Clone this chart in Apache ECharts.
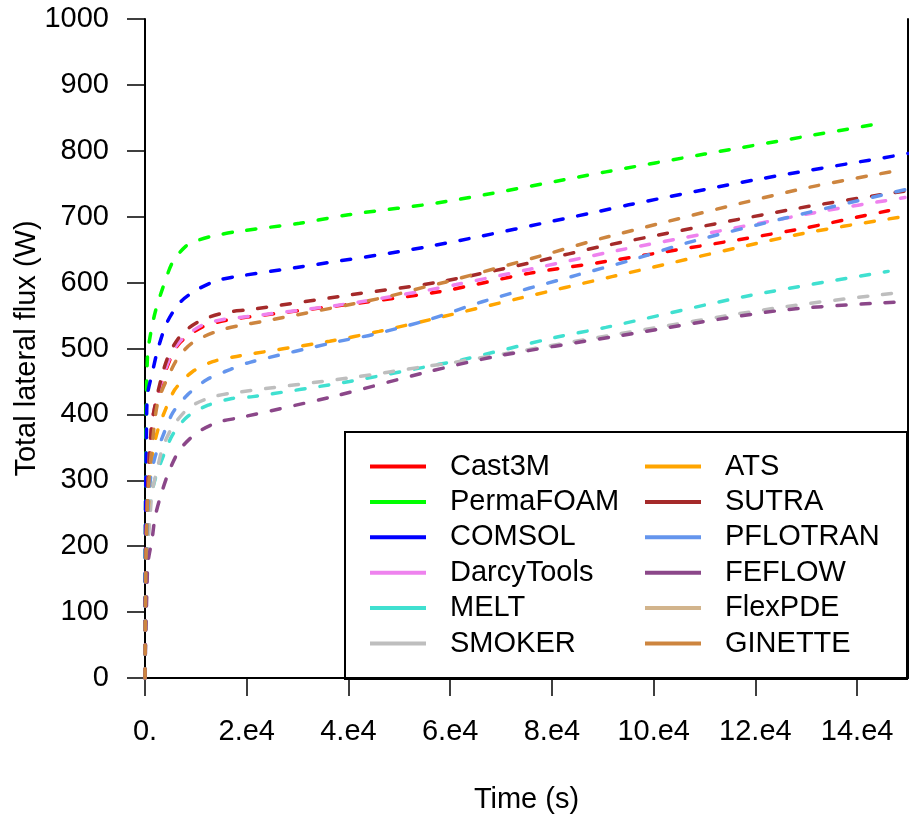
<!DOCTYPE html>
<html>
<head>
<meta charset="utf-8">
<script src="https://cdn.jsdelivr.net/npm/echarts@6/dist/echarts.min.js"></script>
<style>
  html, body { margin: 0; padding: 0; background: #fff; }
  #chart { width: 909px; height: 818px; }
</style>
</head>
<body>
<div id="chart"></div>
<script>
// ---- data (time in s, flux in W) ----
const xTickValues = [0, 20000, 40000, 60000, 80000, 100000, 120000, 140000];
const xTickLabels = ['0.', '2.e4', '4.e4', '6.e4', '8.e4', '10.e4', '12.e4', '14.e4'];

const cast3m = [[0,0],[200,200],[600,300],[1400,388],[2500,427],[4900,483],[6900,509],[11400,533],[16700,544],[20600,548],[40000,567],[57800,586],[75500,614],[90600,632],[127800,680],[146100,709],[149000,712]];
const permafoam = [[0,0],[200,380],[500,490],[1000,518],[2000,555],[3500,592],[5500,632],[8000,655],[10000,663],[13000,670],[18600,678],[30400,690],[40000,703],[59200,723],[90600,768],[110000,795],[130000,822],[143500,840]];
const comsol = [[0,0],[100,250],[300,380],[500,430],[1400,462],[2500,498],[4300,539],[6900,570],[10200,589],[14100,603],[18600,610],[29800,623],[55900,655],[89200,708],[95100,718],[120000,756],[149400,795],[150000,796]];
const darcytools = [[0,0],[200,200],[600,300],[1400,388],[2500,430],[4900,486],[6900,511],[11400,536],[16700,546],[18600,547],[40000,568],[55900,589],[61200,597],[75500,620],[93100,649],[111400,676],[133700,709],[149400,729]];
const melt = [[0,0],[200,120],[600,210],[1000,267],[2000,302],[3500,335],[5500,370],[8400,397],[12400,414],[17100,424],[21200,427],[40200,450],[57800,476],[62400,483],[80800,517],[90600,532],[118000,579],[146100,617]];
const smoker = [[0,0],[200,120],[600,200],[1000,245],[1400,282],[2400,317],[3500,350],[5500,382],[8800,411],[13100,426],[17600,433],[40800,456],[55300,473],[59200,477],[72900,495],[92200,521],[124500,562],[149400,586]];
const ats = [[0,0],[200,150],[600,250],[1400,336],[2400,373],[3900,405],[5900,438],[9200,464],[13300,480],[18000,488],[36300,511],[46000,526],[57800,547],[73500,576],[91800,609],[128400,673],[149000,700]];
const sutra = [[0,0],[200,200],[600,300],[1400,388],[3300,458],[4900,494],[7500,524],[11400,544],[16100,555],[20600,559],[40000,581],[57800,601],[76900,632],[89800,655],[127800,712],[149400,739]];
const pflotran = [[0,0],[200,150],[500,240],[1000,298],[2000,336],[3500,367],[5500,403],[8400,430],[12200,453],[16700,468],[20600,479],[38200,511],[44700,521],[55900,544],[66300,571],[84700,611],[95100,633],[106900,661],[125900,698],[149400,741]];
const feflow = [[0,0],[200,80],[400,140],[600,176],[1400,211],[2000,245],[3300,282],[4900,317],[6900,347],[10200,372],[14300,388],[18600,395],[36900,427],[55300,464],[69000,488],[92200,518],[125100,558],[149400,571]];
const flexpde = [];
const ginette = [[0,0],[200,180],[600,280],[1500,360],[2500,418],[4300,453],[6500,486],[9400,509],[14100,526],[18600,535],[23100,541],[46700,577],[55300,594],[59200,601],[78000,641],[91200,670],[128400,741],[148000,770]];

const seriesNames = ['Cast3M','PermaFOAM','COMSOL','DarcyTools','MELT','SMOKER','ATS','SUTRA','PFLOTRAN','FEFLOW','FlexPDE','GINETTE'];
const seriesData = [cast3m, permafoam, comsol, darcytools, melt, smoker, ats, sutra, pflotran, feflow, flexpde, ginette];
const seriesColors = ['#FF0000','#00FF00','#0000FF','#EE82EE','#40E0D0','#BEBEBE','#FFA500','#A52A2A','#6495ED','#8B4789','#D2B48C','#CD853F'];

const FONT = "'Liberation Sans', Arial, Helvetica, sans-serif";
const FS = 29;
const chart = echarts.init(document.getElementById('chart'), null, {renderer: 'canvas'});

const legendCommon = {
  orient: 'vertical',
  icon: 'rect',
  itemWidth: 56,
  itemHeight: 4,
  itemGap: 6.4,
  textStyle: {fontFamily: FONT, fontSize: FS, color: '#000', padding: [0, 0, 0, 19]},
  padding: 0,
  selectedMode: false
};

const option = {
  backgroundColor: '#fff',
  animation: false,
  textStyle: {fontFamily: FONT},
  grid: {left: 145, right: 1, top: 19, bottom: 140, containLabel: false, outerBoundsMode: 'none'},
  xAxis: {
    type: 'value', min: 0, max: 150000,
    name: 'Time (s)', nameLocation: 'middle', nameGap: 107, nameMoveOverlap: false,
    nameTextStyle: {fontFamily: FONT, fontSize: FS, color: '#000'},
    axisLine: {show: true, onZero: false, lineStyle: {color: '#000', width: 2}},
    axisTick: {show: true, inside: false, length: 18, lineStyle: {color: '#000', width: 1.5}, customValues: xTickValues},
    axisLabel: {show: true, margin: 39, fontFamily: FONT, fontSize: FS, color: '#000', customValues: xTickValues,
      formatter: function (v) { const i = xTickValues.indexOf(v); return i >= 0 ? xTickLabels[i] : ''; }},
    splitLine: {show: false}
  },
  yAxis: [{
    type: 'value', min: 0, max: 1000, interval: 100,
    name: 'Total lateral flux (W)', nameLocation: 'middle', nameGap: 104, nameRotate: 90, nameMoveOverlap: false,
    nameTextStyle: {fontFamily: FONT, fontSize: FS, color: '#000'},
    axisLine: {show: true, onZero: false, lineStyle: {color: '#000', width: 2}},
    axisTick: {show: true, inside: false, length: 18, lineStyle: {color: '#000', width: 1.5}},
    axisLabel: {show: true, margin: 36, fontFamily: FONT, fontSize: FS, color: '#000',
      formatter: function (v) { return String(v); }},
    splitLine: {show: false}
  }, {
    type: 'value', min: 0, max: 1000, position: 'right',
    axisLine: {show: true, onZero: false, lineStyle: {color: '#000', width: 2}},
    axisTick: {show: false}, axisLabel: {show: false}, splitLine: {show: false}
  }],
  legend: [
    Object.assign({}, legendCommon, {left: 370, top: 452, data: seriesNames.slice(0, 6)}),
    Object.assign({}, legendCommon, {left: 645, top: 452, data: seriesNames.slice(6)})
  ],
  graphic: [{
    type: 'rect', z: 100, silent: true,
    shape: {x: 345, y: 432, width: 562, height: 247},
    style: {fill: null, stroke: '#000', lineWidth: 2}
  }],
  series: seriesNames.map(function (name, i) {
    return {
      name: name, type: 'line', data: seriesData[i], smooth: 0.3,
      showSymbol: false, symbol: 'none', clip: true,
      itemStyle: {color: seriesColors[i]},
      lineStyle: {color: seriesColors[i], width: 3.5, type: [9, 15], cap: 'round'},
      emphasis: {disabled: true}
    };
  })
};
chart.setOption(option);
</script>
</body>
</html>
